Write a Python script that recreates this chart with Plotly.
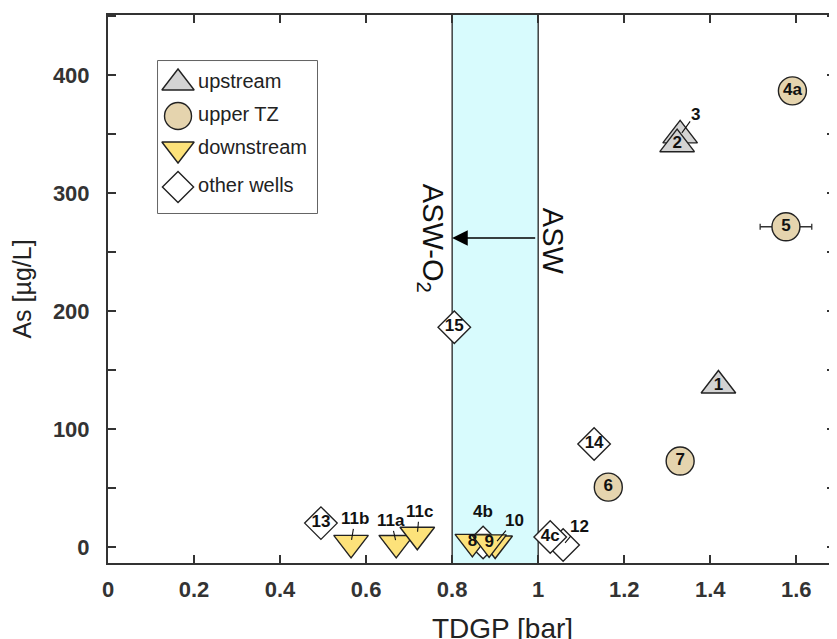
import plotly.graph_objects as go

# ---------------- data ----------------
up_x = [1.33, 1.323, 1.419]
up_y = [349, 341.5, 137]
up_lab = ["", "2", "1"]

tz_x = [1.591, 1.576, 1.163, 1.33]
tz_y = [386.7, 271.5, 50.8, 72.9]
tz_lab = ["4a", "5", "6", "7"]
tz_err = [0, 0.06, 0, 0]

dn_x = [0.565, 0.670, 0.719, 0.90, 0.847, 0.886]
dn_y = [3.6, 3.5, 10.4, 3.0, 4.4, 4.0]
dn_lab = ["", "", "", "", "8", "9"]

ow_x = [0.495, 0.805, 1.130, 1.058, 1.028, 0.872]
ow_y = [20.3, 186.4, 87.3, 1.7, 8.5, 3.8]
ow_lab = ["13", "15", "14", "", "4c", ""]

legend_names = ["upstream", "upper TZ", "downstream", "other wells"]

# external labels: (text, x, y, ax, ay)
ext_labels = [
    ("3", 1.33, 349, 15, -21),
    ("11b", 0.565, 3.6, 4, -24),
    ("11a", 0.670, 3.5, -5, -22),
    ("11c", 0.719, 10.4, 2, -23),
    ("10", 0.90, 3.0, 19, -23),
    ("12", 1.058, 1.7, 16, -19),
]

# ---------------- style ----------------
LINE = "#222222"
C_UP = "#d3d3d3"
C_TZ = "#e5d4ae"
C_DN = "#fde27a"
C_OW = "#ffffff"
BAND = "#d8fbfd"
NARROW = "Liberation Sans Narrow, Liberation Sans, Arial, sans-serif"
SANS = "Liberation Sans, Arial, Helvetica, sans-serif"
lab_font = dict(family=NARROW, size=17, color="#111", weight="bold")

fig = go.Figure()

# other wells first so they lie underneath
fig.add_trace(go.Scatter(
    x=ow_x, y=ow_y, mode="markers+text", text=ow_lab, textposition="middle center",
    textfont=lab_font, name=legend_names[3], showlegend=False,
    marker=dict(symbol="diamond", size=25, color=C_OW, line=dict(color=LINE, width=1.4))))
fig.add_trace(go.Scatter(
    x=up_x, y=up_y, mode="markers+text", text=up_lab, textposition="middle center",
    textfont=lab_font, name=legend_names[0], showlegend=False,
    marker=dict(symbol="triangle-up", size=30, color=C_UP, line=dict(color=LINE, width=1.4))))
fig.add_trace(go.Scatter(
    x=tz_x, y=tz_y, mode="markers+text", text=tz_lab, textposition="middle center",
    textfont=lab_font, name=legend_names[1], showlegend=False,
    error_x=dict(type="data", array=tz_err, color="#333", thickness=1.3, width=3),
    marker=dict(symbol="circle", size=28, color=C_TZ, line=dict(color=LINE, width=1.4))))
fig.add_trace(go.Scatter(
    x=dn_x, y=dn_y, mode="markers+text", text=dn_lab, textposition="middle center",
    textfont=lab_font, name=legend_names[2], showlegend=False,
    marker=dict(symbol="triangle-down", size=30, color=C_DN, line=dict(color=LINE, width=1.4))))

# ---------------- custom legend (overlay axes in pixel units) ----------------
leg_rows = [22, 55, 88, 126]
leg_sym = ["triangle-up", "circle", "triangle-down", "diamond"]
leg_col = [C_UP, C_TZ, C_DN, C_OW]
leg_size = [28, 27, 28, 24]
for i in range(4):
    fig.add_trace(go.Scatter(
        x=[20], y=[leg_rows[i]], mode="markers", xaxis="x2", yaxis="y2", showlegend=False,
        hoverinfo="skip",
        marker=dict(symbol=leg_sym[i], size=leg_size[i], color=leg_col[i],
                    line=dict(color=LINE, width=1.4))))
fig.add_trace(go.Scatter(
    x=[40] * 4, y=leg_rows, mode="text", text=legend_names, textposition="middle right",
    textfont=dict(family=SANS, size=20, color="#222"), xaxis="x2", yaxis="y2",
    showlegend=False, hoverinfo="skip"))

# ---------------- shapes ----------------
fig.add_shape(type="rect", xref="x", yref="paper", x0=0.8, x1=1.0, y0=0, y1=1,
              fillcolor=BAND, line=dict(width=0), layer="below")
for xv in (0.8, 1.0):
    fig.add_shape(type="line", xref="x", yref="paper", x0=xv, x1=xv, y0=0, y1=1,
                  line=dict(color=LINE, width=1.3), layer="below")
# legend box
fig.add_shape(type="rect", xref="paper", yref="paper",
              x0=0.0688, x1=0.2875, y0=0.6387, y1=0.916,
              line=dict(color="#333", width=1.5), fillcolor="rgba(0,0,0,0)", layer="below")

# ---------------- annotations ----------------
ann = []
for t, x, y, ax, ay in ext_labels:
    ann.append(dict(x=x, y=y, xref="x", yref="y", text=t, showarrow=True, arrowhead=0,
                    arrowwidth=1.1, arrowcolor="#111", ax=ax, ay=ay, standoff=3,
                    font=lab_font, borderpad=0))
ann.append(dict(x=0.872, y=3.8, xref="x", yref="y", text="4b", showarrow=False,
                yshift=31, font=lab_font))
# arrow ASW -> ASW-O2
ann.append(dict(x=0.8, y=262, xref="x", yref="y", ax=1.0, ay=262, axref="x", ayref="y",
                text=" ", showarrow=True, arrowhead=2, arrowsize=2.4, arrowwidth=1.3,
                arrowcolor="#000", standoff=0))
ann.append(dict(x=1.0, y=262, xref="x", yref="y", text="ASW", showarrow=False,
                textangle=90, xshift=15, yshift=-3, font=dict(family=SANS, size=29, color="#111")))
ann.append(dict(x=0.8, y=262, xref="x", yref="y", text="ASW-O<sub>2</sub>", showarrow=False,
                textangle=90, xshift=-21, yshift=0, font=dict(family=SANS, size=29, color="#111")))
# x-axis title (sits right of plot centre in the reference)
ann.append(dict(x=0.542, y=-0.087, xref="paper", yref="paper", text="TDGP [bar]",
                showarrow=False, xanchor="center", yanchor="top",
                font=dict(family=SANS, size=28, color="#222")))

axis_common = dict(showline=True, linewidth=2, linecolor="#333", mirror="ticks",
                   ticks="inside", ticklen=8, tickwidth=1.5, tickcolor="#333",
                   showgrid=False, zeroline=False, automargin=False,
                   tickfont=dict(family=NARROW, size=22, color="#333", weight="bold"))

# the page body adds an 8 px offset; margins compensate so the plot lands where the reference has it
fig.update_layout(
    width=837, height=639,
    margin=dict(l=100, r=10, t=7, b=84),
    paper_bgcolor="white", plot_bgcolor="white",
    showlegend=False,
    annotations=ann,
    xaxis=dict(range=[0, 1.69], dtick=0.2, tick0=0, ticklabelstandoff=6,
               **axis_common),
    yaxis=dict(range=[-13.5, 451], dtick=100, tick0=0, ticklabelstandoff=12,
               minor=dict(dtick=50, ticks="inside", ticklen=8, tickwidth=1.5, tickcolor="#333"),
               title=dict(text="As [µg/L]", standoff=24,
                          font=dict(family=SANS, size=25, color="#222")),
               **axis_common),
    xaxis2=dict(domain=[0.0688, 0.2875], range=[0, 159], visible=False, anchor="y2"),
    yaxis2=dict(domain=[0.6387, 0.916], range=[152, 0], visible=False, anchor="x2"),
)

fig.write_html("out.html")
